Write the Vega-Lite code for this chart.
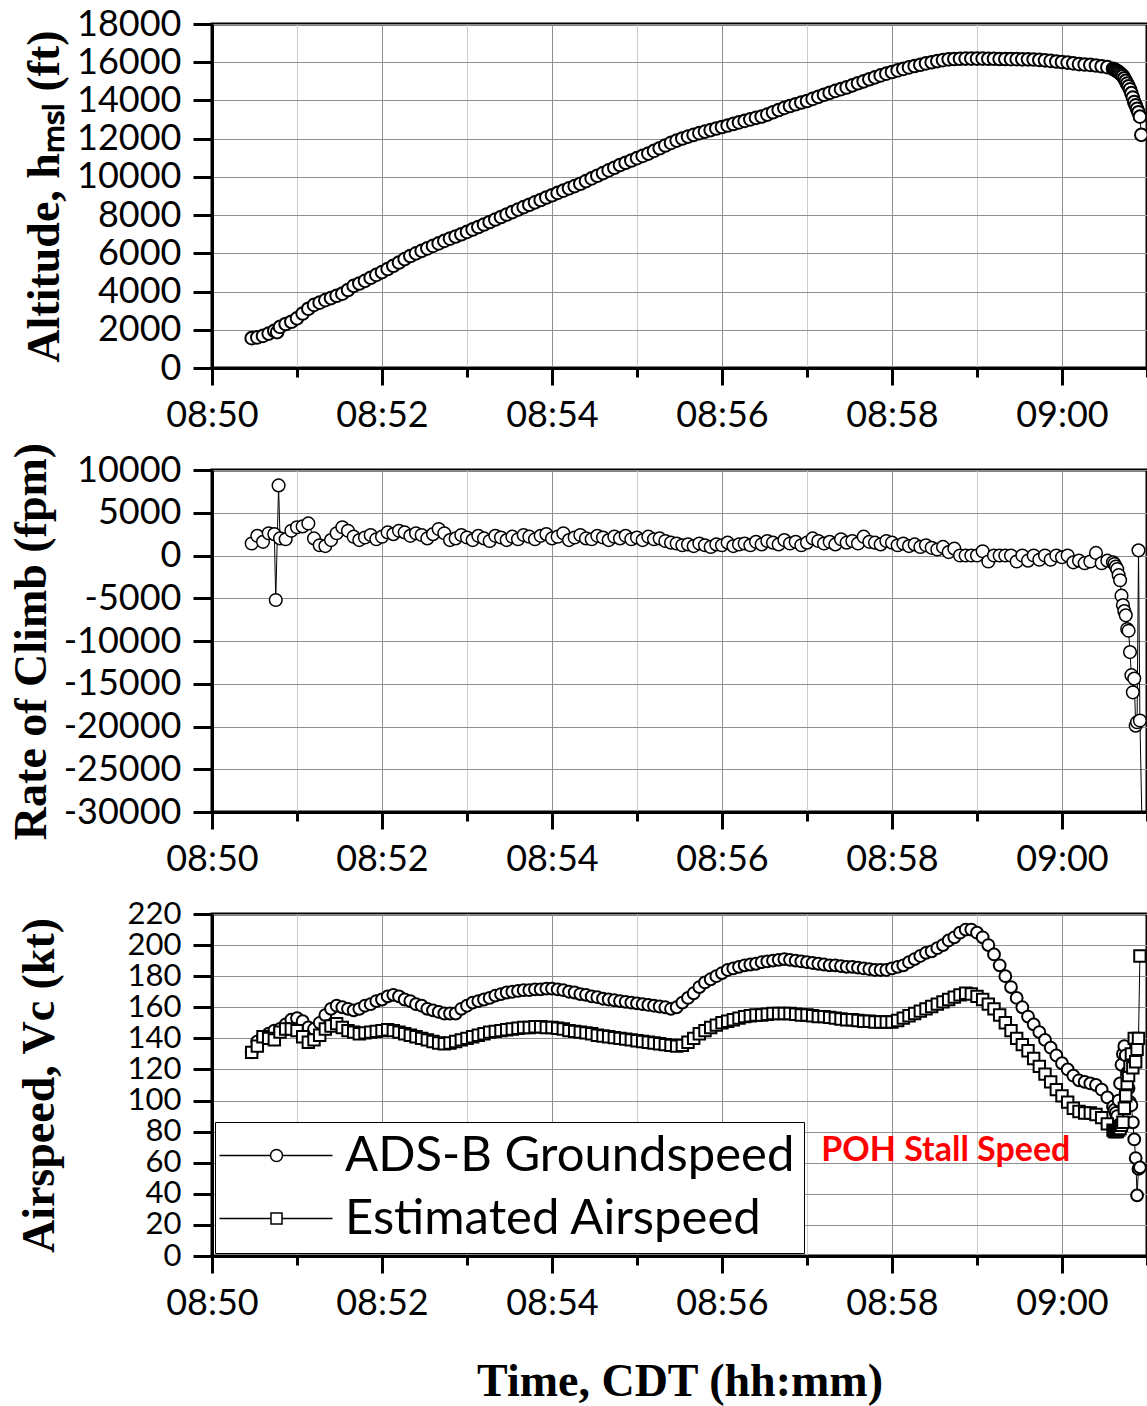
{
"$schema": "https://vega.github.io/schema/vega-lite/v6.json",
"background": "white",
"padding": {"left": 6, "top": 4, "right": 0, "bottom": 0},
"bounds": "flush",
"spacing": 102,
"data": {"format": {"parse": {"t": "date:'%H:%M:%S'"}}, "values": [
{"t":"08:50:28","alt":1560,"roc":1400,"gs":131,"eas":131},
{"t":"08:50:32","alt":1600,"roc":2300,"gs":138,"eas":135},
{"t":"08:50:36","alt":1680,"roc":1600,"gs":141,"eas":141},
{"t":"08:50:40","alt":1800,"roc":2600,"gs":143,"eas":140},
{"t":"08:50:44","alt":1950,"roc":2500,"gs":145,"eas":139},
{"t":"08:50:45","roc":-5200},
{"t":"08:50:46","alt":1880},
{"t":"08:50:47","roc":8200},
{"t":"08:50:48","alt":2150,"roc":2000,"gs":146,"eas":144},
{"t":"08:50:52","alt":2300,"roc":1900,"gs":149,"eas":146},
{"t":"08:50:56","alt":2420,"roc":2900,"gs":152,"eas":146},
{"t":"08:51:00","alt":2600,"roc":3300,"gs":153,"eas":145},
{"t":"08:51:04","alt":2850,"roc":3400,"gs":151,"eas":141},
{"t":"08:51:08","alt":3100,"roc":3750,"gs":147,"eas":137.5},
{"t":"08:51:12","alt":3300,"roc":2000,"gs":146,"eas":139},
{"t":"08:51:16","alt":3420,"roc":1200,"gs":150,"eas":142},
{"t":"08:51:20","alt":3550,"roc":1100,"gs":155,"eas":146},
{"t":"08:51:24","alt":3660,"roc":1800,"gs":159,"eas":148},
{"t":"08:51:28","alt":3780,"roc":2600,"gs":161,"eas":149.5},
{"t":"08:51:32","alt":3890,"roc":3300,"gs":160,"eas":147},
{"t":"08:51:36","alt":4080,"roc":2900,"gs":159,"eas":145},
{"t":"08:51:40","alt":4300,"roc":2200,"gs":158,"eas":144},
{"t":"08:51:44","alt":4420,"roc":1800,"gs":159,"eas":143},
{"t":"08:51:48","alt":4560,"roc":2100,"gs":161,"eas":143.5},
{"t":"08:51:52","alt":4720,"roc":2400,"gs":162,"eas":144},
{"t":"08:51:56","alt":4870,"roc":1900,"gs":164,"eas":144.5},
{"t":"08:52:00","alt":5020,"roc":2200,"gs":165,"eas":145},
{"t":"08:52:04","alt":5180,"roc":2700,"gs":167,"eas":145.5},
{"t":"08:52:08","alt":5350,"roc":2500,"gs":168,"eas":145},
{"t":"08:52:12","alt":5520,"roc":2900,"gs":167,"eas":144},
{"t":"08:52:16","alt":5700,"roc":2700,"gs":165,"eas":143},
{"t":"08:52:20","alt":5860,"roc":2300,"gs":164,"eas":142},
{"t":"08:52:24","alt":6000,"roc":2600,"gs":162,"eas":141},
{"t":"08:52:28","alt":6130,"roc":2400,"gs":161,"eas":140},
{"t":"08:52:32","alt":6260,"roc":2000,"gs":159,"eas":139},
{"t":"08:52:36","alt":6390,"roc":2500,"gs":158,"eas":138},
{"t":"08:52:40","alt":6520,"roc":3100,"gs":157,"eas":137},
{"t":"08:52:44","alt":6650,"roc":2600,"gs":156,"eas":136.5},
{"t":"08:52:48","alt":6770,"roc":1800,"gs":156,"eas":137},
{"t":"08:52:52","alt":6880,"roc":2000,"gs":156,"eas":138},
{"t":"08:52:56","alt":7000,"roc":2400,"gs":159,"eas":139},
{"t":"08:53:00","alt":7120,"roc":2100,"gs":161,"eas":140},
{"t":"08:53:04","alt":7250,"roc":1800,"gs":163,"eas":141},
{"t":"08:53:08","alt":7380,"roc":2300,"gs":164,"eas":142},
{"t":"08:53:12","alt":7510,"roc":2000,"gs":165,"eas":143},
{"t":"08:53:16","alt":7640,"roc":1700,"gs":166,"eas":144},
{"t":"08:53:20","alt":7770,"roc":2300,"gs":167.5,"eas":144.5},
{"t":"08:53:24","alt":7900,"roc":2100,"gs":168.5,"eas":145},
{"t":"08:53:28","alt":8030,"roc":1800,"gs":169.5,"eas":145.5},
{"t":"08:53:32","alt":8160,"roc":2200,"gs":170,"eas":146},
{"t":"08:53:36","alt":8290,"roc":1900,"gs":170.5,"eas":146.5},
{"t":"08:53:40","alt":8420,"roc":2400,"gs":171,"eas":147},
{"t":"08:53:44","alt":8540,"roc":2200,"gs":171,"eas":147},
{"t":"08:53:48","alt":8670,"roc":1900,"gs":171.5,"eas":147.5},
{"t":"08:53:52","alt":8790,"roc":2300,"gs":171.5,"eas":147.5},
{"t":"08:53:56","alt":8920,"roc":2500,"gs":172,"eas":147},
{"t":"08:54:00","alt":9040,"roc":2000,"gs":172,"eas":147},
{"t":"08:54:04","alt":9160,"roc":2200,"gs":171.5,"eas":146.5},
{"t":"08:54:08","alt":9280,"roc":2600,"gs":171,"eas":146},
{"t":"08:54:12","alt":9400,"roc":1800,"gs":170,"eas":145},
{"t":"08:54:16","alt":9520,"roc":2100,"gs":169.5,"eas":144.5},
{"t":"08:54:20","alt":9640,"roc":2400,"gs":168.5,"eas":144},
{"t":"08:54:24","alt":9780,"roc":2000,"gs":168,"eas":143.5},
{"t":"08:54:28","alt":9920,"roc":1900,"gs":167,"eas":143},
{"t":"08:54:32","alt":10060,"roc":2300,"gs":166.5,"eas":142},
{"t":"08:54:36","alt":10200,"roc":2100,"gs":165.5,"eas":141.5},
{"t":"08:54:40","alt":10340,"roc":1800,"gs":165,"eas":141},
{"t":"08:54:44","alt":10480,"roc":2200,"gs":164.5,"eas":140.5},
{"t":"08:54:48","alt":10620,"roc":2000,"gs":164,"eas":140},
{"t":"08:54:52","alt":10740,"roc":2300,"gs":163.5,"eas":139.5},
{"t":"08:54:56","alt":10860,"roc":1900,"gs":163,"eas":139},
{"t":"08:55:00","alt":10980,"roc":2100,"gs":162.5,"eas":138.5},
{"t":"08:55:04","alt":11100,"roc":1800,"gs":162,"eas":138},
{"t":"08:55:08","alt":11220,"roc":2200,"gs":161.5,"eas":137.5},
{"t":"08:55:12","alt":11360,"roc":1900,"gs":161,"eas":137},
{"t":"08:55:16","alt":11500,"roc":2000,"gs":160.5,"eas":136.5},
{"t":"08:55:20","alt":11640,"roc":1700,"gs":160,"eas":136},
{"t":"08:55:24","alt":11780,"roc":1500,"gs":159,"eas":135.5},
{"t":"08:55:28","alt":11900,"roc":1400,"gs":160,"eas":135},
{"t":"08:55:32","alt":12010,"roc":1200,"gs":163,"eas":135.5},
{"t":"08:55:36","alt":12110,"roc":1300,"gs":166,"eas":137.5},
{"t":"08:55:40","alt":12200,"roc":1100,"gs":169,"eas":140},
{"t":"08:55:44","alt":12290,"roc":1400,"gs":173,"eas":143},
{"t":"08:55:48","alt":12370,"roc":1200,"gs":176,"eas":145},
{"t":"08:55:52","alt":12450,"roc":1000,"gs":178,"eas":147},
{"t":"08:55:56","alt":12530,"roc":1300,"gs":180,"eas":148.5},
{"t":"08:56:00","alt":12610,"roc":1200,"gs":182,"eas":150},
{"t":"08:56:04","alt":12690,"roc":1500,"gs":184,"eas":151},
{"t":"08:56:08","alt":12770,"roc":1100,"gs":185,"eas":152},
{"t":"08:56:12","alt":12850,"roc":1300,"gs":186,"eas":153},
{"t":"08:56:16","alt":12930,"roc":1400,"gs":187,"eas":154},
{"t":"08:56:20","alt":13010,"roc":1200,"gs":187.5,"eas":154.5},
{"t":"08:56:24","alt":13090,"roc":1600,"gs":188,"eas":155},
{"t":"08:56:28","alt":13160,"roc":1300,"gs":189,"eas":155},
{"t":"08:56:32","alt":13260,"roc":1700,"gs":189.5,"eas":155.5},
{"t":"08:56:36","alt":13380,"roc":1500,"gs":190,"eas":156},
{"t":"08:56:40","alt":13500,"roc":1300,"gs":190.5,"eas":156},
{"t":"08:56:44","alt":13610,"roc":1800,"gs":191,"eas":156},
{"t":"08:56:48","alt":13710,"roc":1400,"gs":190.5,"eas":156},
{"t":"08:56:52","alt":13800,"roc":1600,"gs":190,"eas":155.5},
{"t":"08:56:56","alt":13890,"roc":1200,"gs":189.5,"eas":155},
{"t":"08:57:00","alt":13970,"roc":1500,"gs":189,"eas":155},
{"t":"08:57:04","alt":14080,"roc":2000,"gs":188.5,"eas":154.5},
{"t":"08:57:08","alt":14190,"roc":1700,"gs":188,"eas":154},
{"t":"08:57:12","alt":14300,"roc":1400,"gs":187.5,"eas":154},
{"t":"08:57:16","alt":14400,"roc":1600,"gs":187,"eas":153.5},
{"t":"08:57:20","alt":14500,"roc":1300,"gs":187,"eas":153},
{"t":"08:57:24","alt":14590,"roc":1900,"gs":186.5,"eas":152.5},
{"t":"08:57:28","alt":14680,"roc":1500,"gs":186,"eas":152},
{"t":"08:57:32","alt":14790,"roc":1700,"gs":186,"eas":152},
{"t":"08:57:36","alt":14900,"roc":1400,"gs":185.5,"eas":151.5},
{"t":"08:57:40","alt":15000,"roc":2200,"gs":185,"eas":151},
{"t":"08:57:44","alt":15110,"roc":1600,"gs":184.5,"eas":151},
{"t":"08:57:48","alt":15210,"roc":1500,"gs":184,"eas":150.5},
{"t":"08:57:52","alt":15310,"roc":1300,"gs":184,"eas":150.5},
{"t":"08:57:56","alt":15400,"roc":1700,"gs":184,"eas":150.5},
{"t":"08:58:00","alt":15490,"roc":1500,"gs":185,"eas":150.5},
{"t":"08:58:04","alt":15570,"roc":1200,"gs":186,"eas":151.5},
{"t":"08:58:08","alt":15650,"roc":1400,"gs":187,"eas":153},
{"t":"08:58:12","alt":15730,"roc":1100,"gs":189,"eas":154.5},
{"t":"08:58:16","alt":15800,"roc":1300,"gs":191,"eas":156},
{"t":"08:58:20","alt":15870,"roc":1000,"gs":193,"eas":157.5},
{"t":"08:58:24","alt":15940,"roc":1200,"gs":195,"eas":159},
{"t":"08:58:28","alt":16000,"roc":900,"gs":196,"eas":160.5},
{"t":"08:58:32","alt":16060,"roc":700,"gs":198,"eas":162},
{"t":"08:58:36","alt":16110,"roc":1000,"gs":200,"eas":163.5},
{"t":"08:58:40","alt":16150,"roc":400,"gs":203,"eas":165},
{"t":"08:58:44","alt":16170,"roc":800,"gs":205,"eas":166.5},
{"t":"08:58:48","alt":16180,"roc":0,"gs":208,"eas":168},
{"t":"08:58:52","alt":16190,"roc":0,"gs":210,"eas":169},
{"t":"08:58:56","alt":16190,"roc":0,"gs":210,"eas":168.5},
{"t":"08:59:00","alt":16190,"roc":0,"gs":208,"eas":167},
{"t":"08:59:04","alt":16190,"roc":500,"gs":205,"eas":165},
{"t":"08:59:08","alt":16180,"roc":-700,"gs":200,"eas":162},
{"t":"08:59:12","alt":16180,"roc":0,"gs":194,"eas":159},
{"t":"08:59:16","alt":16170,"roc":0,"gs":187,"eas":155},
{"t":"08:59:20","alt":16170,"roc":0,"gs":180,"eas":150},
{"t":"08:59:24","alt":16160,"roc":0,"gs":173,"eas":145},
{"t":"08:59:28","alt":16160,"roc":-700,"gs":166,"eas":140},
{"t":"08:59:32","alt":16150,"roc":0,"gs":160,"eas":136},
{"t":"08:59:36","alt":16150,"roc":-600,"gs":154,"eas":132},
{"t":"08:59:40","alt":16140,"roc":0,"gs":149,"eas":127},
{"t":"08:59:44","alt":16120,"roc":-500,"gs":144,"eas":122},
{"t":"08:59:48","alt":16100,"roc":0,"gs":139,"eas":117},
{"t":"08:59:52","alt":16070,"roc":-500,"gs":134,"eas":112},
{"t":"08:59:56","alt":16040,"roc":0,"gs":129,"eas":107},
{"t":"09:00:00","alt":16010,"roc":-200,"gs":124,"eas":103},
{"t":"09:00:04","alt":15980,"roc":0,"gs":120,"eas":99},
{"t":"09:00:08","alt":15940,"roc":-800,"gs":116,"eas":95},
{"t":"09:00:12","alt":15900,"roc":-600,"gs":113,"eas":93},
{"t":"09:00:16","alt":15880,"roc":-900,"gs":112,"eas":92},
{"t":"09:00:20","alt":15860,"roc":-700,"gs":111,"eas":92},
{"t":"09:00:24","alt":15830,"roc":300,"gs":110,"eas":91},
{"t":"09:00:28","alt":15790,"roc":-900,"gs":107,"eas":89},
{"t":"09:00:32","alt":15740,"roc":-600,"gs":102,"eas":85},
{"t":"09:00:36","alt":15660,"roc":-800,"gs":96,"eas":81},
{"t":"09:00:37","alt":15620,"roc":-1000,"gs":94,"eas":80},
{"t":"09:00:38","alt":15580,"roc":-1300,"gs":92,"eas":80},
{"t":"09:00:39","alt":15530,"roc":-1600,"gs":90,"eas":80},
{"t":"09:00:40","alt":15480,"roc":-2300,"gs":100,"eas":81},
{"t":"09:00:41","alt":15420,"roc":-2900,"gs":111,"eas":82},
{"t":"09:00:42","alt":15350,"roc":-4700,"gs":123,"eas":84},
{"t":"09:00:43","alt":15280,"roc":-5800,"gs":130,"eas":86},
{"t":"09:00:44","alt":15160,"roc":-6500,"gs":135,"eas":95},
{"t":"09:00:45","alt":15020,"roc":-7000,"gs":129,"eas":103},
{"t":"09:00:46","alt":14880,"roc":-8600,"gs":118,"eas":111},
{"t":"09:00:47","alt":14740,"roc":-8800,"gs":108,"eas":116},
{"t":"09:00:48","alt":14580,"roc":-11300,"gs":99,"eas":122},
{"t":"09:00:49","alt":14380,"roc":-14000,"gs":97,"eas":130},
{"t":"09:00:50","alt":14150,"roc":-16000,"gs":86,"eas":121},
{"t":"09:00:51","alt":13920,"roc":-14400,"gs":75,"eas":140},
{"t":"09:00:52","alt":13740,"roc":-19900,"gs":63,"eas":125},
{"t":"09:00:53","alt":13560,"roc":-19500,"gs":39,"eas":133},
{"t":"09:00:54","alt":13380,"roc":600,"gs":56,"eas":140},
{"t":"09:00:55","alt":13150,"roc":-19300,"gs":57,"eas":193},
{"t":"09:00:56","alt":12200},
{"t":"09:00:57","roc":-36000}
]},
"config": {
  "font": "Lato",
  "view": {"stroke": "black", "strokeWidth": 3},
  "axis": {
    "domainColor": "black", "domainWidth": 3,
    "tickColor": "black", "tickWidth": 3, "tickSize": 19,
    "gridColor": "#8f8f8f", "gridWidth": 1,
    "labelFont": "Lato", "labelFontSize": 36, "labelColor": "black", "labelPadding": 12,
    "labelOverlap": false, "labelFlush": false,
    "titleFont": "Liberation Serif", "titleFontSize": 46, "titleFontWeight": "bold", "titleColor": "black", "titlePadding": 8
  }
},
"resolve": {"scale": {"shape": "independent"}, "legend": {"shape": "independent"}},
"vconcat": [
{
  "width": 935, "height": 344,
  "encoding": {"x": {"field": "t", "type": "temporal",
    "scale": {"domain": [{"year":1900,"month":1,"date":1,"hours":8,"minutes":50},{"year":1900,"month":1,"date":1,"hours":9,"minutes":1}]},
    "axis": {"title": null, "tickCount": 30,
      "values": [{"year":1900,"month":1,"date":1,"hours":8,"minutes":50},{"year":1900,"month":1,"date":1,"hours":8,"minutes":51},{"year":1900,"month":1,"date":1,"hours":8,"minutes":52},{"year":1900,"month":1,"date":1,"hours":8,"minutes":53},{"year":1900,"month":1,"date":1,"hours":8,"minutes":54},{"year":1900,"month":1,"date":1,"hours":8,"minutes":55},{"year":1900,"month":1,"date":1,"hours":8,"minutes":56},{"year":1900,"month":1,"date":1,"hours":8,"minutes":57},{"year":1900,"month":1,"date":1,"hours":8,"minutes":58},{"year":1900,"month":1,"date":1,"hours":8,"minutes":59},{"year":1900,"month":1,"date":1,"hours":9,"minutes":0},{"year":1900,"month":1,"date":1,"hours":9,"minutes":1}],
      "labelExpr": "minutes(datum.value) % 2 == 0 ? timeFormat(datum.value, '%H:%M') : ''",
      "tickSize": {"condition": {"test": "minutes(datum.value) % 2 == 0", "value": 17}, "value": 9},
      "gridColor": {"condition": {"test": "minutes(datum.value) % 2 == 0", "value": "#8f8f8f"}, "value": "#cccccc"},
      "labelPadding": 13, "labelOverlap": false}}},
  "layer": [
    {"transform": [{"filter": "isValid(datum.alt)"}],
     "mark": {"type": "line", "color": "black", "strokeWidth": 1, "clip": true},
     "encoding": {"y": {"field": "alt", "type": "quantitative", "scale": {"domain": [0, 18000], "nice": false},
       "axis": {"title": "Altitude, hₘₛₗ (ft)", "tickCount": 30, "values": [0,2000,4000,6000,8000,10000,12000,14000,16000,18000], "labelExpr": "datum.value + ''", "labelOverlap": false}}}},
    {"transform": [{"filter": "isValid(datum.alt)"}],
     "mark": {"type": "point", "shape": "circle", "filled": true, "fill": "white", "stroke": "black", "strokeWidth": 2, "size": 160, "opacity": 1, "clip": true},
     "encoding": {"y": {"field": "alt", "type": "quantitative"}}}
  ]
},
{
  "width": 935, "height": 342,
  "encoding": {"x": {"field": "t", "type": "temporal",
    "scale": {"domain": [{"year":1900,"month":1,"date":1,"hours":8,"minutes":50},{"year":1900,"month":1,"date":1,"hours":9,"minutes":1}]},
    "axis": {"title": null, "tickCount": 30,
      "values": [{"year":1900,"month":1,"date":1,"hours":8,"minutes":50},{"year":1900,"month":1,"date":1,"hours":8,"minutes":51},{"year":1900,"month":1,"date":1,"hours":8,"minutes":52},{"year":1900,"month":1,"date":1,"hours":8,"minutes":53},{"year":1900,"month":1,"date":1,"hours":8,"minutes":54},{"year":1900,"month":1,"date":1,"hours":8,"minutes":55},{"year":1900,"month":1,"date":1,"hours":8,"minutes":56},{"year":1900,"month":1,"date":1,"hours":8,"minutes":57},{"year":1900,"month":1,"date":1,"hours":8,"minutes":58},{"year":1900,"month":1,"date":1,"hours":8,"minutes":59},{"year":1900,"month":1,"date":1,"hours":9,"minutes":0},{"year":1900,"month":1,"date":1,"hours":9,"minutes":1}],
      "labelExpr": "minutes(datum.value) % 2 == 0 ? timeFormat(datum.value, '%H:%M') : ''",
      "tickSize": {"condition": {"test": "minutes(datum.value) % 2 == 0", "value": 17}, "value": 9},
      "gridColor": {"condition": {"test": "minutes(datum.value) % 2 == 0", "value": "#8f8f8f"}, "value": "#cccccc"},
      "labelPadding": 13, "labelOverlap": false}}},
  "layer": [
    {"transform": [{"filter": "isValid(datum.roc)"}],
     "mark": {"type": "line", "color": "black", "strokeWidth": 1, "clip": true},
     "encoding": {"y": {"field": "roc", "type": "quantitative", "scale": {"domain": [-30000, 10000], "nice": false},
       "axis": {"title": "Rate of Climb (fpm)", "tickCount": 30, "values": [-30000,-25000,-20000,-15000,-10000,-5000,0,5000,10000], "labelExpr": "datum.value + ''", "labelOverlap": false}}}},
    {"transform": [{"filter": "isValid(datum.roc)"}],
     "mark": {"type": "point", "shape": "circle", "filled": true, "fill": "white", "stroke": "black", "strokeWidth": 1.5, "size": 160, "opacity": 1, "clip": true},
     "encoding": {"y": {"field": "roc", "type": "quantitative"}}},
    {"data": {"values": [{"roc": 0}]},
     "mark": {"type": "rule", "color": "black", "strokeWidth": 3},
     "encoding": {"y": {"field": "roc", "type": "quantitative"}}}
  ]
},
{
  "width": 935, "height": 342,
  "encoding": {"x": {"field": "t", "type": "temporal",
    "scale": {"domain": [{"year":1900,"month":1,"date":1,"hours":8,"minutes":50},{"year":1900,"month":1,"date":1,"hours":9,"minutes":1}]},
    "axis": {"title": "Time, CDT (hh:mm)", "titlePadding": 38, "tickCount": 30,
      "values": [{"year":1900,"month":1,"date":1,"hours":8,"minutes":50},{"year":1900,"month":1,"date":1,"hours":8,"minutes":51},{"year":1900,"month":1,"date":1,"hours":8,"minutes":52},{"year":1900,"month":1,"date":1,"hours":8,"minutes":53},{"year":1900,"month":1,"date":1,"hours":8,"minutes":54},{"year":1900,"month":1,"date":1,"hours":8,"minutes":55},{"year":1900,"month":1,"date":1,"hours":8,"minutes":56},{"year":1900,"month":1,"date":1,"hours":8,"minutes":57},{"year":1900,"month":1,"date":1,"hours":8,"minutes":58},{"year":1900,"month":1,"date":1,"hours":8,"minutes":59},{"year":1900,"month":1,"date":1,"hours":9,"minutes":0},{"year":1900,"month":1,"date":1,"hours":9,"minutes":1}],
      "labelExpr": "minutes(datum.value) % 2 == 0 ? timeFormat(datum.value, '%H:%M') : ''",
      "tickSize": {"condition": {"test": "minutes(datum.value) % 2 == 0", "value": 17}, "value": 9},
      "gridColor": {"condition": {"test": "minutes(datum.value) % 2 == 0", "value": "#8f8f8f"}, "value": "#cccccc"},
      "labelPadding": 13, "labelOverlap": false}}},
  "layer": [
    {"data": {"values": [{"v": 80}]},
     "mark": {"type": "rule", "color": "#ff0000", "strokeWidth": 3.5},
     "encoding": {"y": {"field": "v", "type": "quantitative"}}},
    {"data": {"format": {"parse": {"t": "date:'%H:%M:%S'"}}, "values": [{"t": "08:57:10", "v": 80, "label": "POH Stall Speed"}]},
     "mark": {"type": "text", "align": "left", "baseline": "top", "dy": 2, "font": "Lato", "fontWeight": "bold", "fontSize": 34, "color": "#ff0000"},
     "encoding": {"y": {"field": "v", "type": "quantitative"}, "text": {"field": "label"}}},
    {"transform": [{"fold": ["gs", "eas"], "as": ["key", "v"]}, {"filter": "isValid(datum.v)"}],
     "mark": {"type": "line", "color": "black", "strokeWidth": 1, "clip": true},
     "encoding": {"y": {"field": "v", "type": "quantitative", "scale": {"domain": [0, 220], "nice": false},
       "axis": {"title": "Airspeed, Vc (kt)", "titlePadding": 64, "labelFontSize": 31, "tickCount": 30, "values": [0,20,40,60,80,100,120,140,160,180,200,220], "labelExpr": "datum.value + ''", "labelOverlap": false}},
       "detail": {"field": "key"}}},
    {"transform": [{"filter": "isValid(datum.gs)"}],
     "mark": {"type": "point", "shape": "circle", "filled": true, "fill": "white", "stroke": "black", "strokeWidth": 2, "size": 140, "opacity": 1, "clip": true},
     "encoding": {"y": {"field": "gs", "type": "quantitative"}}},
    {"transform": [{"filter": "isValid(datum.eas)"}],
     "mark": {"type": "point", "shape": "square", "filled": true, "fill": "white", "stroke": "black", "strokeWidth": 2, "size": 130, "opacity": 1, "clip": true},
     "encoding": {"y": {"field": "eas", "type": "quantitative"}}},
    {"data": {"values": []},
     "mark": {"type": "point", "filled": true, "fill": "white", "stroke": "black", "strokeWidth": 1, "opacity": 1},
     "encoding": {"y": {"field": "v", "type": "quantitative"},
       "shape": {"field": "key", "type": "nominal",
         "scale": {"domain": ["gs", "eas"], "range": ["M-11.4,0L-1.2,0M1.2,0L11.2,0M1.2,0A1.2,1.2,0,1,1,-1.2,0A1.2,1.2,0,1,1,1.2,0Z", "M-11.4,0L-1.1,0M1.1,0L11.2,0M-1.1,-1.1L1.1,-1.1L1.1,1.1L-1.1,1.1Z"]},
         "legend": {"title": null, "orient": "bottom-left", "offset": 3, "padding": 9, "rowPadding": 13,
           "labelExpr": "datum.value == 'gs' ? 'ADS-B Groundspeed' : 'Estimated Airspeed'",
           "labelFont": "Lato", "labelFontSize": 49, "labelColor": "black", "labelLimit": 0, "labelOffset": 44,
           "strokeColor": "black", "fillColor": "white", "symbolOffset": 28}}}}
  ]
}
]
}
